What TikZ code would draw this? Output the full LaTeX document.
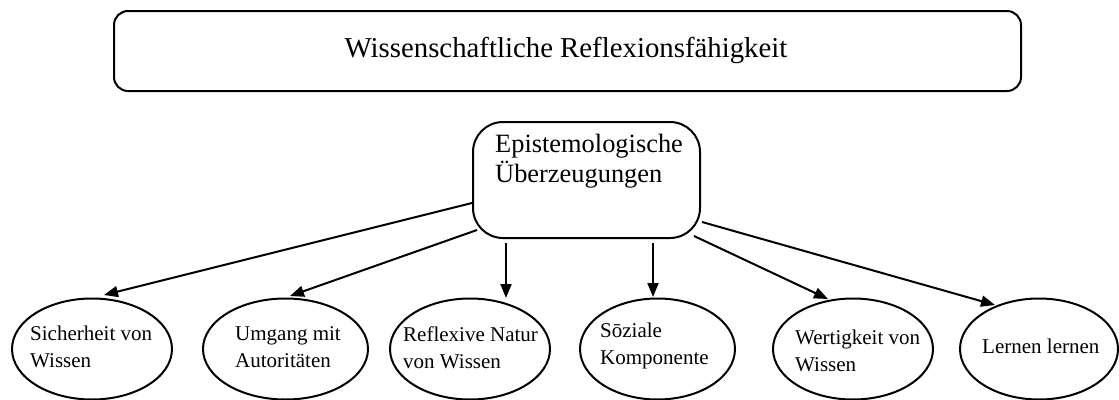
\documentclass[tikz,border=0pt]{standalone}
\usepackage{fontspec}
\setmainfont{Liberation Serif}
\usetikzlibrary{arrows.meta,shapes.geometric}
\begin{document}
\begin{tikzpicture}[x=1pt,y=-1pt,
  box/.style={draw,line width=2pt,rounded corners=14pt},
  oval/.style={draw,ellipse,line width=2pt,minimum height=101pt,inner sep=0pt},
  otext/.style={align=left,font=\fontsize{21}{27}\selectfont,inner sep=0pt,anchor=base west},
  arr/.style={line width=2pt,-{Triangle[length=14pt,width=11pt]}}]
\useasboundingbox (0,0) rectangle (1119,399);
\node[box,minimum width=907pt,minimum height=80pt,anchor=north west] (top) at (113,10) {};
\node[font=\fontsize{28.8}{34}\selectfont,anchor=base,inner sep=0pt] (title) at (566,57) {Wissenschaftliche Reflexionsfähigkeit};
\node[draw,line width=2pt,rounded corners=30pt,minimum width=227pt,minimum height=116pt,anchor=north west] (ep) at (472,121) {};
\node[align=left,font=\fontsize{26.4}{30}\selectfont,inner sep=0pt,anchor=base west] (eptext) at (495,182) {Epistemologische\\Überzeugungen};
\node[oval,minimum width=160pt] (o1) at (92,349) {};
\node[oval,minimum width=165pt] (o2) at (285.5,349) {};
\node[oval,minimum width=160pt] (o3) at (470,349) {};
\node[oval,minimum width=155pt] (o4) at (657.5,349) {};
\node[oval,minimum width=160pt] (o5) at (853,349) {};
\node[oval,minimum width=158pt] (o6) at (1039,349) {};
\node[otext] (t1) at (30,367) {Sicherheit von\\Wissen};
\node[otext] (t2) at (235,367) {Umgang mit\\Autoritäten};
\node[otext] (t3) at (403,368) {Reflexive Natur\\von Wissen};
\node[otext] (t4) at (600,364) {Sōziale\\Komponente};
\node[otext] (t5) at (795,371) {Wertigkeit von\\Wissen};
\node[otext] (t6) at (982,353) {Lernen lernen};
\coordinate (s1) at (472,203); \coordinate (e1) at (104,295);
\coordinate (s2) at (477,230); \coordinate (e2) at (290,296);
\coordinate (s3) at (506,243); \coordinate (e3) at (506,298);
\coordinate (s4) at (653,243); \coordinate (e4) at (653,297);
\coordinate (s5) at (694,236); \coordinate (e5) at (828,299);
\coordinate (s6) at (702,222); \coordinate (e6) at (995,305);
\draw[arr] (s1) -- (e1);
\draw[arr] (s2) -- (e2);
\draw[arr] (s3) -- (e3);
\draw[arr] (s4) -- (e4);
\draw[arr] (s5) -- (e5);
\draw[arr] (s6) -- (e6);
\end{tikzpicture}
\end{document}
